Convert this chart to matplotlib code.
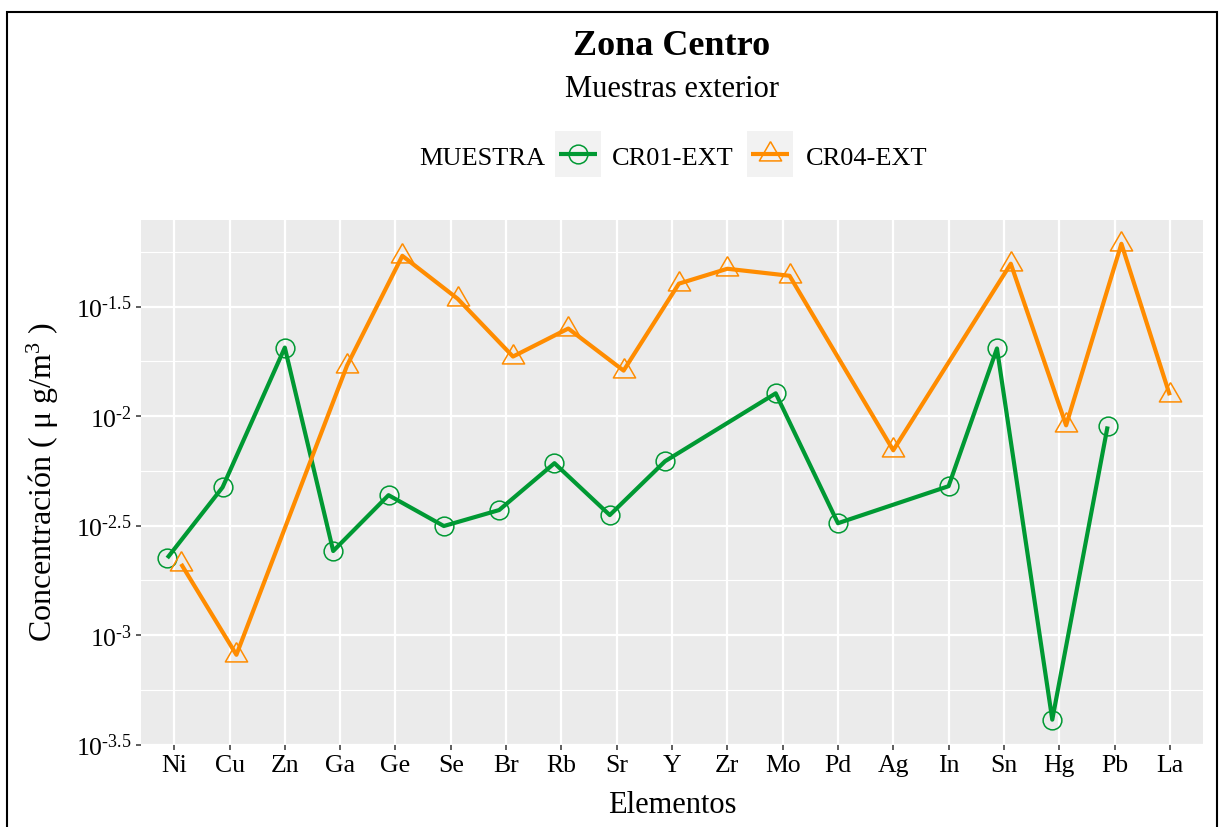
import numpy as np
import matplotlib
matplotlib.use("Agg")
import matplotlib.pyplot as plt
from matplotlib.lines import Line2D
from matplotlib.patches import Rectangle
from matplotlib.ticker import FixedLocator, NullFormatter

plt.rcParams["font.family"] = ["Liberation Serif", "DejaVu Serif"]
plt.rcParams["mathtext.fontset"] = "custom"
plt.rcParams["mathtext.rm"] = "Liberation Serif"
plt.rcParams["mathtext.default"] = "regular"

elementos = ["Ni", "Cu", "Zn", "Ga", "Ge", "Se", "Br", "Rb", "Sr", "Y",
             "Zr", "Mo", "Pd", "Ag", "In", "Sn", "Hg", "Pb", "La"]

# concentraciones en ug/m3 (nan = sin dato)
cr01_ext = [0.002249, 0.004732, 0.02056, 0.002421, 0.004355, 0.003148, 0.003724,
            0.006095, 0.003532, 0.006223, np.nan, 0.01271, 0.003243, np.nan,
            0.004786, 0.02037, 0.000411, 0.008974, np.nan]
cr04_ext = [0.002113, 0.000813, np.nan, 0.01702, 0.05395, 0.03436, 0.01871,
            0.02512, 0.01614, 0.04027, 0.04710, 0.04375, np.nan, 0.006982,
            np.nan, 0.04966, 0.009078, 0.06124, 0.01245]

y_exps = [-3.5, -3, -2.5, -2, -1.5]
y_minor_exps = [-3.25, -2.75, -2.25, -1.75, -1.25]

W, H = 1219, 828


def fx(px):
    return px / W


def fy(py):
    return 1 - py / H


a = np.array(cr01_ext)
b = np.array(cr04_ext)
idx = np.arange(len(elementos))
# dodge only where both samples have a value
both = ~np.isnan(a) & ~np.isnan(b)
dodge = 0.125
x01 = idx - dodge * both
x04 = idx + dodge * both

tri = [(0, 1), (-0.866, -0.5), (0.866, -0.5), (0, 1)]
series = [
    ("CR01-EXT", x01, a, "#009933", "o", 13.5),
    ("CR04-EXT", x04, b, "#FF8C00", tri, 18.5),
]

fig = plt.figure(figsize=(W / 100, H / 100), dpi=100)
ax = fig.add_axes([fx(141), fy(746), (1203 - 141) / W, (746 - 221) / H])
ax.set_facecolor("#EBEBEB")
for sp in ax.spines.values():
    sp.set_visible(False)

for label, xs, ys, color, marker, ms in series:
    ok = ~np.isnan(ys)
    ax.plot(xs[ok], ys[ok], color=color, lw=3, solid_capstyle="butt",
            solid_joinstyle="round", zorder=3)
    ax.plot(xs[ok], ys[ok], ls="none", marker=marker, ms=ms, mfc="none",
            mec=color, mew=1.1, zorder=4)

ax.set_yscale("log")
lo = np.log10(np.nanmin([a, b]))
hi = np.log10(np.nanmax([a, b]))
pad = 0.05 * (hi - lo)
ax.set_ylim(10 ** min(lo - pad, y_exps[0] - 0.002), 10 ** (hi + pad))
ax.yaxis.set_major_locator(FixedLocator([10 ** e for e in y_exps]))
ax.yaxis.set_minor_locator(FixedLocator([10 ** e for e in y_minor_exps]))
ax.yaxis.set_minor_formatter(NullFormatter())
ax.set_yticklabels([r"$10^{%s}$" % ("%g" % e).replace("-", "\u2010") for e in y_exps])

ax.set_xticks(idx)
ax.set_xticklabels(elementos)
ax.set_xlim(-0.6, len(elementos) - 0.4)

ax.set_axisbelow(True)
ax.grid(which="major", color="white", lw=1.6)
ax.grid(which="minor", axis="y", color="white", lw=0.8)
ax.tick_params(which="major", length=3.3, width=1.1, color="#333333",
               labelsize=18.5, labelcolor="black", pad=3)
ax.tick_params(which="minor", length=0)

fig.text(fx(672), fy(55), "Zona Centro", fontsize=26, fontweight="bold",
         ha="center", va="baseline")
fig.text(fx(672), fy(97), "Muestras exterior", fontsize=22,
         ha="center", va="baseline")
fig.text(fx(672), fy(813), "Elementos", fontsize=22, ha="center", va="baseline")
fig.text(fx(43), fy(482), "Concentración ( μ g/m$^3$ )", fontsize=23,
         rotation=90, ha="center", va="center")

# legend along the top
fig.text(fx(419), fy(165), "MUESTRA", fontsize=19, va="baseline")
for box_x, text_x, (label, _, _, color, marker, ms) in zip((555, 747), (612, 806), series):
    fig.add_artist(Rectangle((fx(box_x), fy(178)), 46 / W, 46 / H,
                             transform=fig.transFigure, fc="#F2F2F2", ec="none"))
    fig.add_artist(Line2D([fx(box_x + 4), fx(box_x + 42)], [fy(155), fy(155)],
                          color=color, lw=3, solid_capstyle="butt",
                          transform=fig.transFigure))
    fig.add_artist(Line2D([fx(box_x + 23)], [fy(155)], marker=marker, ms=ms,
                          mfc="none", mec=color, mew=1.1,
                          transform=fig.transFigure))
    fig.text(fx(text_x), fy(165), label, fontsize=19, va="baseline")

# frame around the figure
fig.add_artist(Rectangle((fx(7), fy(840)), (1217 - 7) / W, (840 - 13) / H,
                         transform=fig.transFigure, fill=False, ec="black",
                         lw=1.5, clip_on=False))

fig.savefig("out.png", dpi=100)
